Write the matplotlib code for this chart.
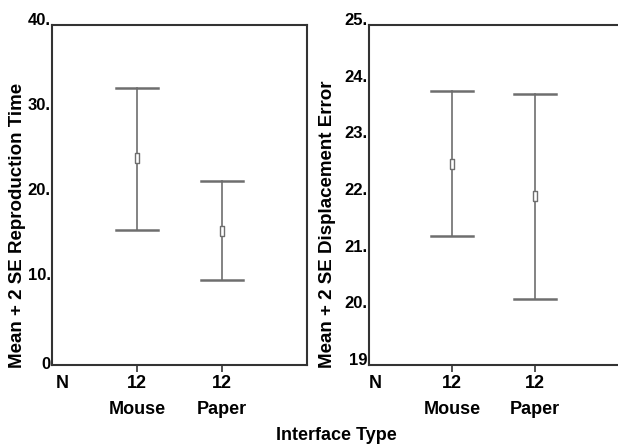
import matplotlib.pyplot as plt
from matplotlib import transforms

plt.rcParams['font.family'] = ['Liberation Sans', 'DejaVu Sans']
plt.rcParams['font.weight'] = 'bold'

groups = ['Mouse', 'Paper']
n_counts = [12, 12]

# reproduction time (left panel)
time_mean = [24.3, 15.8]
time_upper = [32.6, 21.6]
time_lower = [15.9, 10.0]

# displacement error (right panel)
err_mean = [22.54, 21.99]
err_upper = [23.84, 23.78]
err_lower = [21.27, 20.16]

line_col = '#6e6e6e'
spine_col = '#333333'
box = [(-1, -2.2), (1, -2.2), (1, 2.2), (-1, 2.2), (-1, -2.2)]

fig = plt.figure(figsize=(6.18, 4.45), dpi=100)
ax1 = fig.add_axes([0.0841, 0.1798, 0.4127, 0.764])
ax2 = fig.add_axes([0.597, 0.1798, 0.403, 0.764])


def draw_panel(ax, means, upper, lower, ylim, ticks, labels, n_x, right_spine):
    xs = [1, 2]
    for x, m, hi, lo in zip(xs, means, upper, lower):
        ax.plot([x, x], [lo, hi], color=line_col, lw=1.2, zorder=2)
        ax.plot([x - 0.25, x + 0.25], [hi, hi], color=line_col, lw=1.8, zorder=2)
        ax.plot([x - 0.25, x + 0.25], [lo, lo], color=line_col, lw=1.8, zorder=2)
        ax.plot([x], [m], marker=box, ms=7, mfc='white', mec=line_col, mew=1.0, zorder=3)
    ax.set_xlim(0, 3)
    ax.set_ylim(*ylim)
    ax.set_yticks(ticks)
    ax.set_yticklabels(labels, fontsize=12, fontweight='bold', va='baseline')
    ax.tick_params(axis='y', length=0, pad=1)
    ax.set_xticks(xs)
    ax.set_xticklabels([])
    ax.tick_params(axis='x', length=5, width=1.2, color=spine_col)
    for s in ax.spines.values():
        s.set_color(spine_col)
        s.set_linewidth(1.5)
    ax.spines['right'].set_visible(right_spine)
    trans = transforms.blended_transform_factory(ax.transData, fig.transFigure)
    ax.text(n_x, 1 - 383 / 445, 'N', transform=trans, ha='center', va='center',
            fontsize=13, fontweight='bold')
    for x, n, g in zip(xs, n_counts, groups):
        ax.text(x, 1 - 383 / 445, str(n), transform=trans, ha='center', va='center',
                fontsize=13, fontweight='bold')
        ax.text(x, 1 - 409 / 445, g, transform=trans, ha='center', va='center',
                fontsize=13, fontweight='bold')


draw_panel(ax1, time_mean, time_upper, time_lower, (0, 40),
           [0, 10, 20, 30, 40], ['0', '10.', '20.', '30.', '40.'], 0.12, True)
draw_panel(ax2, err_mean, err_upper, err_lower, (19, 25),
           [19, 20, 21, 22, 23, 24, 25], ['19', '20.', '21.', '22.', '23.', '24.', '25.'],
           0.07, False)
# the zero label sits centred on the axis in the original
ax1.get_yticklabels()[0].set_va('center')

fig.text(18 / 618, 1 - 225 / 445, 'Mean + 2 SE Reproduction Time', rotation=90,
         ha='center', va='center', fontsize=13.5, fontweight='bold')
fig.text(328 / 618, 1 - 224 / 445, 'Mean + 2 SE Displacement Error', rotation=90,
         ha='center', va='center', fontsize=13.5, fontweight='bold')
fig.text(336 / 618, 1 - 435 / 445, 'Interface Type', ha='center', va='center',
         fontsize=13, fontweight='bold')

fig.savefig('out.png', dpi=100)
